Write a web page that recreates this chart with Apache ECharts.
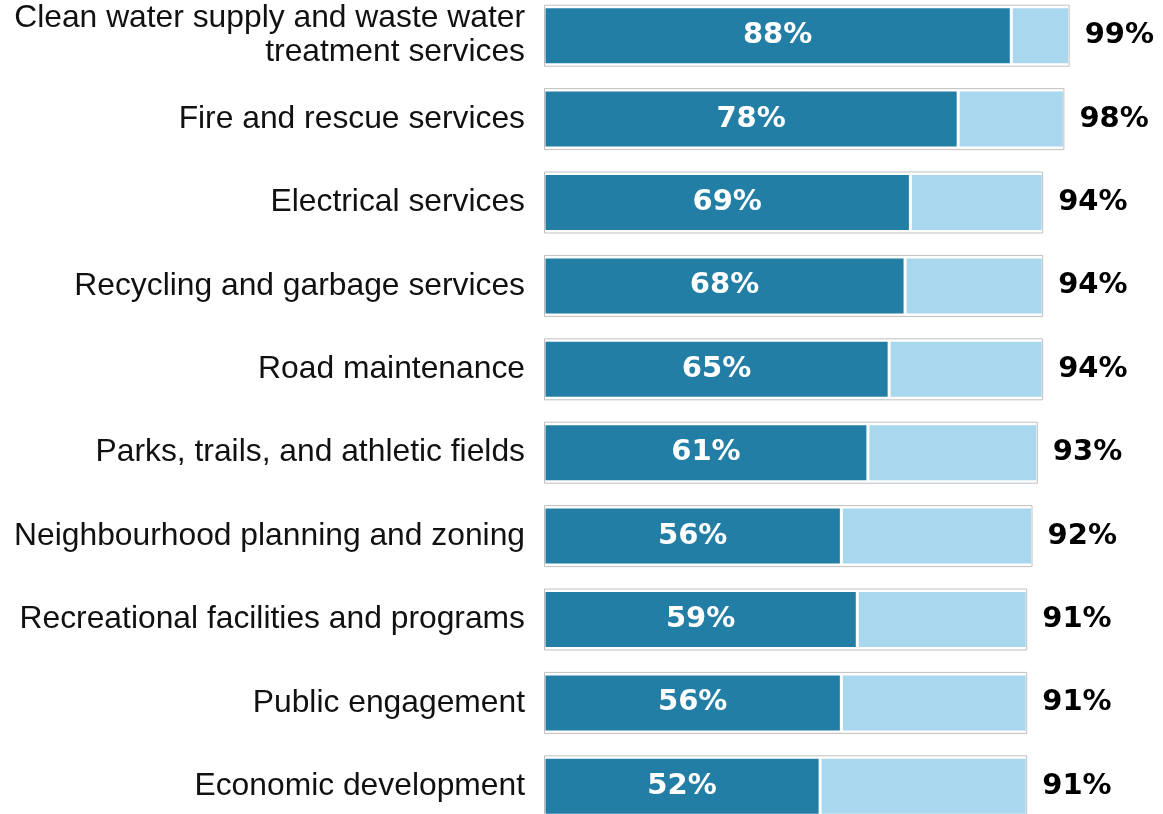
<!DOCTYPE html>
<html>
<head>
<meta charset="utf-8">
<script src="https://cdn.jsdelivr.net/npm/echarts@6/dist/echarts.min.js"></script>
<style>
html,body{margin:0;padding:0;background:#fff;}
#chart{width:1163px;height:814px;}
</style>
</head>
<body>
<div id="chart"></div>
<script>
const categories = [
  'Clean water supply and waste water\ntreatment services',
  'Fire and rescue services',
  'Electrical services',
  'Recycling and garbage services',
  'Road maintenance',
  'Parks, trails, and athletic fields',
  'Neighbourhood planning and zoning',
  'Recreational facilities and programs',
  'Public engagement',
  'Economic development'
];
const strongValues = [88, 78, 69, 68, 65, 61, 56, 59, 56, 52];
const totalValues = [99, 98, 94, 94, 94, 93, 92, 91, 91, 91];
const restValues = totalValues.map((t, i) => t - strongValues[i]);

const DARK = '#237ea6';
const LIGHT = '#a9d7ed';
const FRAME = '#bfbfbf';

const chart = echarts.init(document.getElementById('chart'), null, {renderer: 'canvas'});
chart.setOption({
  animation: false,
  backgroundColor: '#ffffff',
  grid: {left: 544, width: 531, top: -6, height: 834, containLabel: false, outerBoundsMode: 'none'},
  xAxis: {type: 'value', min: 0, max: 100, show: false},
  yAxis: [
    {
      type: 'category', data: categories, inverse: true,
      axisLine: {show: false}, axisTick: {show: false}, splitLine: {show: false},
      axisLabel: {
        margin: 19, color: '#111111', fontFamily: 'Liberation Sans, Arial, sans-serif',
        fontSize: 31.8, lineHeight: 34, align: 'right', padding: [8, 0, 0, 0]
      }
    },
    {
      type: 'category', data: categories, inverse: true, show: false
    }
  ],
  series: [
    {
      name: 'Strong', type: 'bar', stack: 's', yAxisIndex: 0, barWidth: 58,
      data: strongValues,
      itemStyle: {color: DARK, borderColor: '#ffffff', borderWidth: 1.5},
      label: {
        show: true, position: 'inside', formatter: '{c}%', color: '#ffffff',
        fontFamily: 'DejaVu Sans', fontWeight: 'bold', fontSize: 29
      },
      z: 2
    },
    {
      name: 'Rest', type: 'bar', stack: 's', yAxisIndex: 0, barWidth: 58,
      data: restValues,
      itemStyle: {color: LIGHT, borderColor: '#ffffff', borderWidth: 1.5},
      z: 2
    },
    {
      name: 'Total', type: 'bar', yAxisIndex: 1, barWidth: 62,
      data: totalValues,
      itemStyle: {color: 'rgba(0,0,0,0)', borderColor: FRAME, borderWidth: 1},
      label: {
        show: true, position: 'right', distance: 15, formatter: '{c}%', color: '#000000',
        fontFamily: 'DejaVu Sans', fontWeight: 'bold', fontSize: 29
      },
      z: 3
    }
  ]
});
</script>
</body>
</html>
